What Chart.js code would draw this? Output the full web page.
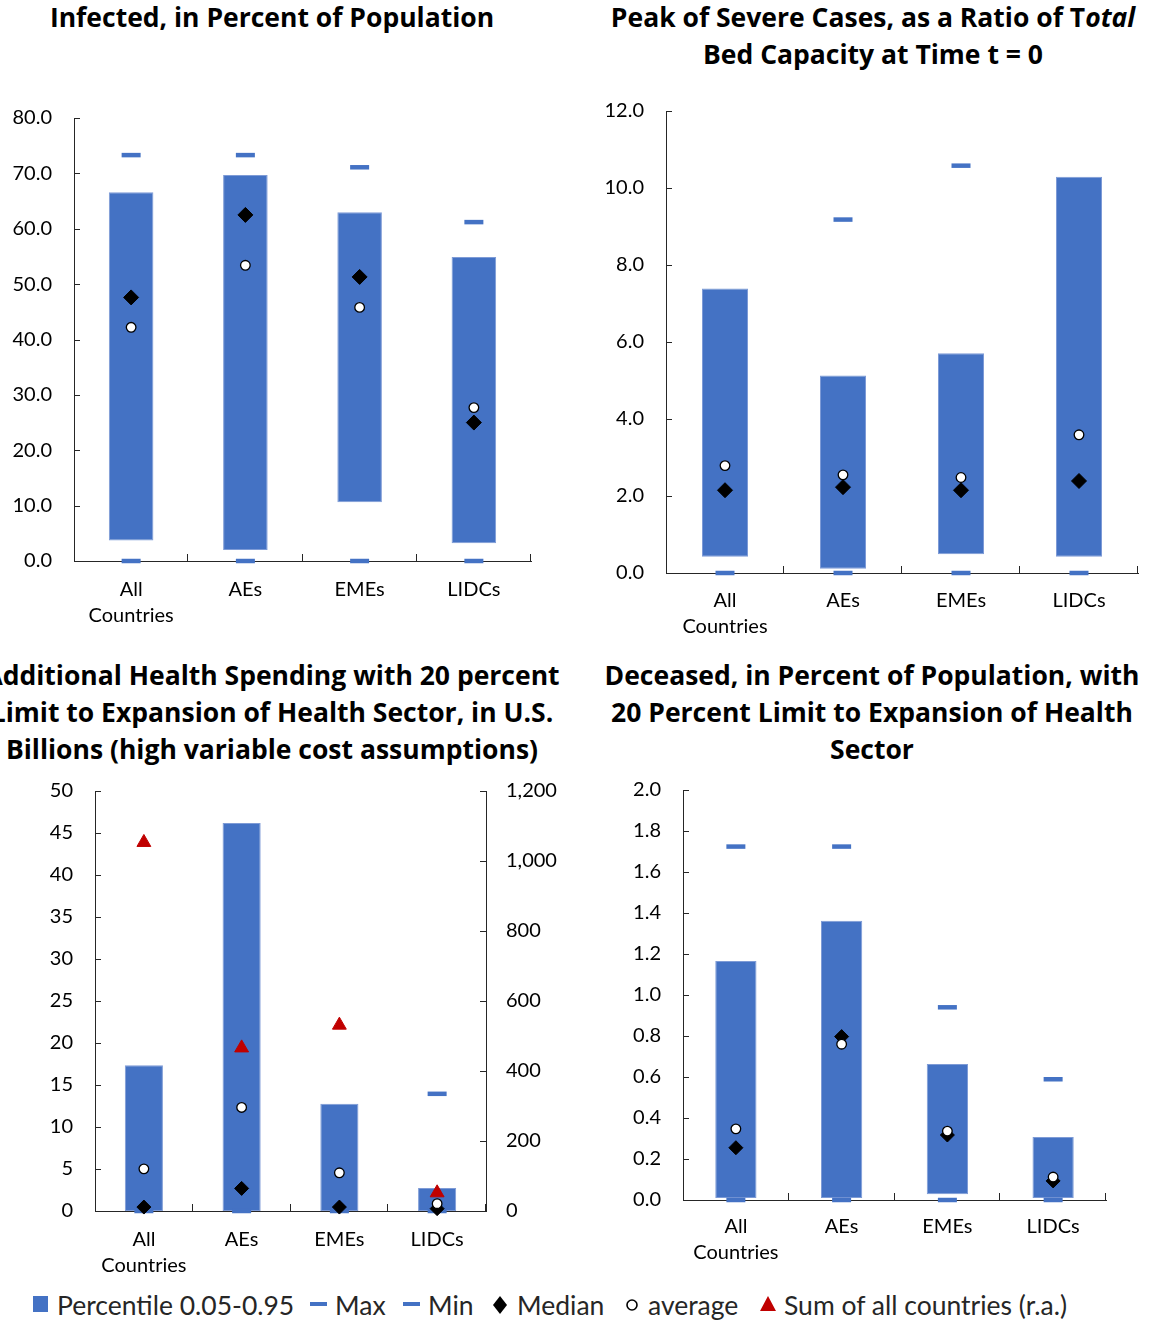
<!DOCTYPE html>
<html>
<head>
<meta charset="utf-8">
<script src="https://cdn.jsdelivr.net/npm/chart.js@4"></script>
<style>
  html, body { margin: 0; padding: 0; background: #fff; }
  body { width: 1152px; height: 1321px; position: relative; overflow: hidden; font-family: Lato, "Open Sans", sans-serif; color: #000; }
  .title { position: absolute; transform: translateX(-50%); white-space: nowrap; text-align: center; font-family: "Open Sans", Lato, sans-serif; font-weight: bold; font-size: 26.5px; line-height: 37px; }
  canvas { position: absolute; }
  .lg { position: absolute; top: 1290px; font-size: 26.5px; line-height: 30px; color: #262626; white-space: nowrap; }
  .mk { position: absolute; }
</style>
</head>
<body>
<div class="title" style="left:272px; top:-1px">Infected, in Percent of Population</div>
<div class="title" style="left:873px; top:-1px">Peak of Severe Cases, as a Ratio of T<i>otal</i><br>Bed Capacity at Time t = 0</div>
<div class="title" style="left:272px; top:657px">Additional Health Spending with 20 percent<br>Limit to Expansion of Health Sector, in U.S.<br>Billions (high variable cost assumptions)</div>
<div class="title" style="left:872px; top:657px">Deceased, in Percent of Population, with<br>20 Percent Limit to Expansion of Health<br>Sector</div>

<canvas id="c1" width="576" height="563" style="left:0px; top:92px"></canvas>
<canvas id="c2" width="562" height="575" style="left:590px; top:85px"></canvas>
<canvas id="c3" width="580" height="520" style="left:0px; top:765px"></canvas>
<canvas id="c4" width="562" height="521" style="left:590px; top:764px"></canvas>

<!-- shared legend -->
<svg class="mk" style="left:33px; top:1296px" width="16" height="16"><rect x="0" y="0" width="15" height="16" fill="#4472C4"/></svg>
<div class="lg" style="left:57px">Percentile 0.05-0.95</div>
<svg class="mk" style="left:309px; top:1300px" width="20" height="8"><rect x="1" y="2" width="17" height="4" fill="#4472C4"/></svg>
<div class="lg" style="left:335px">Max</div>
<svg class="mk" style="left:402px; top:1300px" width="20" height="8"><rect x="1" y="2" width="17" height="4" fill="#4472C4"/></svg>
<div class="lg" style="left:428px">Min</div>
<svg class="mk" style="left:491px; top:1295px" width="18" height="20"><polygon points="9,1 16,10 9,19 2,10" fill="#000"/></svg>
<div class="lg" style="left:517px">Median</div>
<svg class="mk" style="left:625px; top:1298px" width="14" height="14"><circle cx="7" cy="7" r="5" fill="#fff" stroke="#000" stroke-width="1.6"/></svg>
<div class="lg" style="left:648px">average</div>
<svg class="mk" style="left:759px; top:1295px" width="18" height="18"><polygon points="9,1 17,16 1,16" fill="#C00000"/></svg>
<div class="lg" style="left:784px">Sum of all countries (r.a.)</div>

<script>
// Country groups on the horizontal axis
const categories = [['All', 'Countries'], 'AEs', 'EMEs', 'LIDCs'];

// Infected, in percent of population
const infectedP05 = [3.7, 2.0, 10.6, 3.2];
const infectedP95 = [66.6, 69.7, 63.0, 54.9];
const infectedMax = [73.3, 73.3, 71.1, 61.2];
const infectedMin = [0, 0, 0, 0];
const infectedMedian = [47.6, 62.5, 51.3, 25.0];
const infectedAverage = [42.2, 53.4, 45.8, 27.7];
const infectedTicks = { min: 0, max: 80, step: 10, decimals: 1 };

// Peak of severe cases relative to total bed capacity
const peakP05 = [0.42, 0.11, 0.49, 0.42];
const peakP95 = [7.39, 5.13, 5.71, 10.29];
const peakMax = [null, 9.18, 10.58, null];
const peakMin = [0, 0, 0, 0];
const peakMedian = [2.15, 2.23, 2.15, 2.39];
const peakAverage = [2.79, 2.55, 2.48, 3.59];
const peakTicks = { min: 0, max: 12, step: 2, decimals: 1 };

// Additional health spending, US$ billions (left axis) and group sums (right axis)
const spendP05 = [0, 0, 0, 0];
const spendP95 = [17.35, 46.2, 12.77, 2.73];
const spendMax = [null, null, null, 13.95];
const spendMin = [0, 0, 0, 0];
const spendMedian = [0.47, 2.69, 0.47, 0.28];
const spendAverage = [5.02, 12.33, 4.55, 0.87];
const spendSum = [1053, 466, 531, 52];
const spendTicks = { min: 0, max: 50, step: 5, decimals: 0 };
const spendSumTicks = { min: 0, max: 1200, step: 200 };

// Deceased, in percent of population
const deceasedP05 = [0.01, 0.01, 0.028, 0.01];
const deceasedP95 = [1.166, 1.362, 0.664, 0.307];
const deceasedMax = [1.724, 1.724, 0.94, 0.589];
const deceasedMin = [0, 0, 0, 0];
const deceasedMedian = [0.255, 0.797, 0.317, 0.093];
const deceasedAverage = [0.347, 0.76, 0.336, 0.112];
const deceasedTicks = { min: 0, max: 2, step: 0.2, decimals: 1 };

const BLUE = '#4472C4';
const RED = '#C00000';
const AXIS = '#262626';
const TICK_LEN = 6;

Chart.defaults.font.family = 'Lato, "Open Sans", sans-serif';
Chart.defaults.color = '#000';

// Tick marks drawn on the inner side of every axis
const innerTicks = {
  id: 'innerTicks',
  beforeDatasetsDraw(chart) {
    const ctx = chart.ctx;
    ctx.save();
    ctx.strokeStyle = AXIS;
    ctx.lineWidth = 1;
    ctx.beginPath();
    Object.values(chart.scales).forEach(s => {
      if (s.axis === 'y') {
        const left = s.position === 'left';
        const x0 = left ? chart.chartArea.left : chart.chartArea.right;
        const dir = left ? 1 : -1;
        s.ticks.forEach((t, i) => {
          const y = Math.round(s.getPixelForTick(i)) + 0.5;
          ctx.moveTo(x0, y);
          ctx.lineTo(x0 + dir * TICK_LEN, y);
        });
      } else {
        const y0 = chart.chartArea.bottom;
        for (let i = 0; i < s.ticks.length; i++) {
          const x = Math.round(s.getPixelForValue(i + 0.5)) - 0.5;
          ctx.moveTo(x, y0);
          ctx.lineTo(x, y0 - TICK_LEN - 1);
        }
      }
    });
    ctx.stroke();
    ctx.restore();
  }
};

function valueAxis(t, width, position, format, pad, labelOffset) {
  return {
    position: position,
    min: t.min, max: t.max,
    grid: { display: false },
    border: { display: true, color: AXIS, width: 1 },
    ticks: {
      stepSize: t.step,
      padding: pad,
      labelOffset: labelOffset || 0,
      font: { size: 20 },
      color: '#000',
      callback: format
    },
    afterFit(s) { s.width = width; }
  };
}

function buildChart(id, o) {
  const datasets = [
    {
      type: 'bar', label: 'Percentile 0.05-0.95', order: 10,
      data: o.p05.map((v, i) => [v, o.p95[i]]),
      backgroundColor: BLUE, borderColor: '#7E9BD6', borderWidth: 1, borderSkipped: false,
      barPercentage: 1, categoryPercentage: 0.39, yAxisID: 'y'
    },
    {
      type: 'line', label: 'Max', order: 5, data: o.max, showLine: false, clip: false,
      pointStyle: 'line', pointRadius: 9.5, pointBorderWidth: 4.5, pointBorderColor: BLUE, yAxisID: 'y'
    },
    {
      type: 'line', label: 'Min', order: 5, data: o.min, showLine: false, clip: false,
      pointStyle: 'line', pointRadius: 9.5, pointBorderWidth: 4.5, pointBorderColor: BLUE, yAxisID: 'y'
    },
    {
      type: 'line', label: 'Median', order: 3, data: o.median, showLine: false, clip: false,
      pointStyle: 'rectRot', pointRadius: o.diamond || 7.5, pointBackgroundColor: '#000',
      pointBorderColor: '#000', pointBorderWidth: 1, yAxisID: 'y'
    },
    {
      type: 'line', label: 'average', order: 1, data: o.average, showLine: false, clip: false,
      pointStyle: 'circle', pointRadius: 4.8, pointBackgroundColor: '#fff',
      pointBorderColor: '#000', pointBorderWidth: 1.3, yAxisID: 'y'
    }
  ];
  const scales = {
    x: {
      type: 'category',
      offset: true,
      grid: { display: false },
      border: { display: true, color: AXIS, width: 1 },
      ticks: { padding: o.xPad, font: { size: 20, lineHeight: 1.33 }, color: '#000', maxRotation: 0, autoSkip: false },
      afterFit(s) { s.height = o.xHeight; }
    },
    y: valueAxis(o.ticks, o.yWidth, 'left', v => v.toFixed(o.ticks.decimals), 14, o.labelOffset)
  };
  if (o.sum) {
    datasets.push({
      type: 'line', label: 'Sum of all countries (r.a.)', order: 2, data: o.sum, showLine: false, clip: false,
      pointStyle: 'triangle', pointRadius: 8, pointBackgroundColor: RED, pointBorderColor: RED,
      pointBorderWidth: 1, yAxisID: 'y1'
    });
    scales.y1 = valueAxis(o.sumTicks, o.y1Width, 'right', v => v.toLocaleString('en-US'), 12);
  }
  return new Chart(document.getElementById(id), {
    type: 'bar',
    data: { labels: categories, datasets: datasets },
    options: {
      responsive: false,
      animation: false,
      events: [],
      layout: { padding: o.padding },
      plugins: { legend: { display: false }, tooltip: { enabled: false }, title: { display: false } },
      scales: scales
    },
    plugins: [innerTicks]
  });
}

buildChart('c1', {
  p05: infectedP05, p95: infectedP95, max: infectedMax, min: infectedMin,
  median: infectedMedian, average: infectedAverage, ticks: infectedTicks,
  yWidth: 74, xHeight: 94, xPad: 7, padding: { top: 10, right: 45, bottom: 0, left: 0 }
});

buildChart('c2', {
  p05: peakP05, p95: peakP95, max: peakMax, min: peakMin,
  median: peakMedian, average: peakAverage, ticks: peakTicks,
  yWidth: 76, xHeight: 87, xPad: 6, padding: { top: 5, right: 11, bottom: 0, left: 0 }
});

buildChart('c3', {
  p05: spendP05, p95: spendP95, max: spendMax, min: spendMin,
  median: spendMedian, average: spendAverage, ticks: spendTicks,
  sum: spendSum, sumTicks: spendSumTicks, diamond: 7,
  yWidth: 95, y1Width: 94, xHeight: 74, xPad: 7, padding: { top: 7, right: 0, bottom: 0, left: 0 }
});

buildChart('c4', {
  p05: deceasedP05, p95: deceasedP95, max: deceasedMax, min: deceasedMin,
  median: deceasedMedian, average: deceasedAverage, ticks: deceasedTicks, diamond: 7,
  yWidth: 93, xHeight: 85, xPad: 5, padding: { top: 5, right: 46, bottom: 0, left: 0 }
});
</script>
</body>
</html>
